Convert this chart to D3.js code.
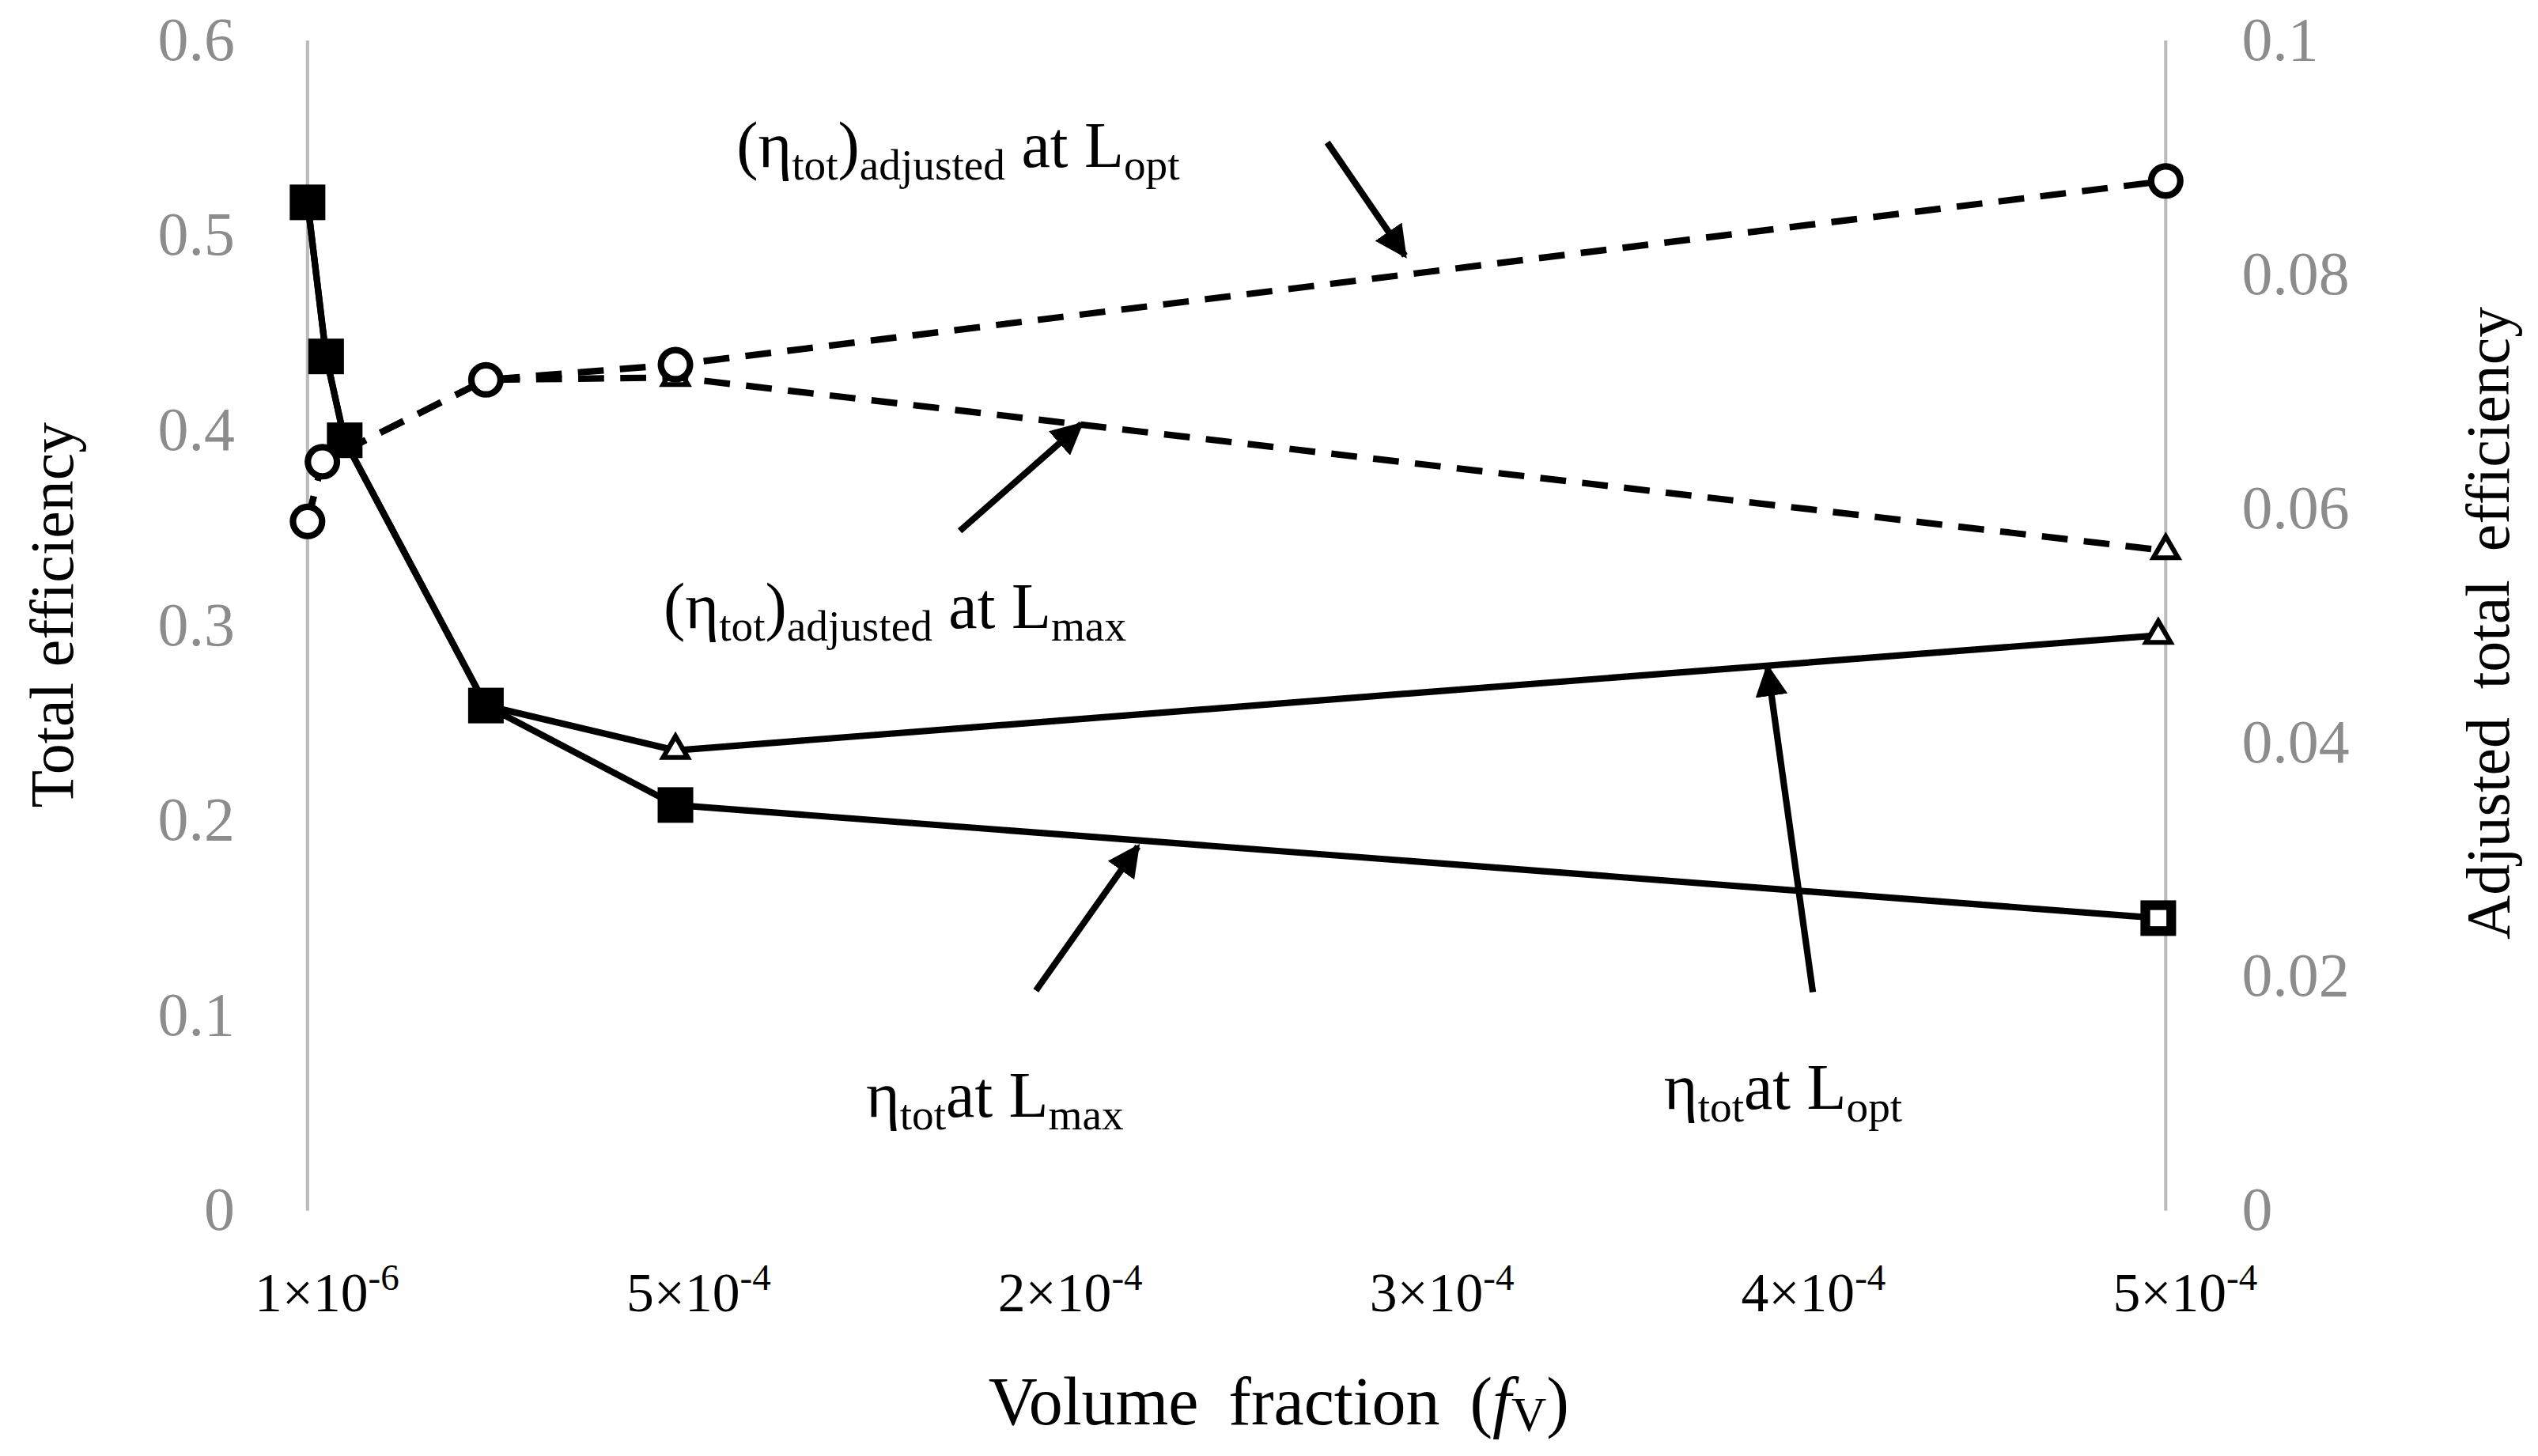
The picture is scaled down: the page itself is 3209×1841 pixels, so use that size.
<!DOCTYPE html>
<html><head><meta charset="utf-8">
<script src="https://cdn.jsdelivr.net/npm/d3@7"></script>
<style>body{margin:0;background:#fff}text{font-family:"Liberation Serif","DejaVu Serif",serif}</style>
</head><body><svg id="c" width="3209" height="1841"></svg>
<script>
// data, x in units of 1e-4
var xTicks = [0, 1, 2, 3, 4, 5];
var xTickLabels = [["1×10","-6"], ["5×10","-4"], ["2×10","-4"], ["3×10","-4"], ["4×10","-4"], ["5×10","-4"]];
var leftTicks = [0, 0.1, 0.2, 0.3, 0.4, 0.5, 0.6];
var rightTicks = [0, 0.02, 0.04, 0.06, 0.08, 0.1];
var sqX = [0, 0.05, 0.10, 0.48, 0.99, 4.98];
var sqY = [0.517, 0.438, 0.395, 0.259, 0.208, 0.150];
var triX = [0, 0.05, 0.10, 0.48, 0.99, 4.98];
var triY = [0.517, 0.438, 0.395, 0.259, 0.236, 0.295];
var circX = [0, 0.04, 0.48, 0.99, 5.0];
var circY = [0.0589, 0.064, 0.071, 0.0723, 0.088];
var dtriX = [0, 0.04, 0.48, 0.99, 5.0];
var dtriY = [0.0589, 0.064, 0.071, 0.0712, 0.0564];

var s = 3209 / 1568;
var svg = d3.select("#c");
var g = svg.append("g").attr("transform", "scale(" + s + ")");
var x = d3.scaleLinear().domain([0, 5]).range([190, 1338]);
var yL = d3.scaleLinear().domain([0, 0.6]).range([748, 25]);
var yR = d3.scaleLinear().domain([0, 0.1]).range([748, 25]);
var grey = "#8c8c8c";

g.append("line").attr("x1", 190).attr("x2", 190).attr("y1", 25).attr("y2", 748).attr("stroke", "#bbb").attr("stroke-width", 2);
g.append("line").attr("x1", 1338).attr("x2", 1338).attr("y1", 25).attr("y2", 748).attr("stroke", "#bbb").attr("stroke-width", 2);

g.selectAll(".lt").data(leftTicks).enter().append("text")
  .attr("x", 145).attr("y", function(d){ return yL(d) + 12; }).attr("text-anchor", "end")
  .attr("font-size", 38).attr("fill", grey).text(function(d){ return d; });
g.selectAll(".rt").data(rightTicks).enter().append("text")
  .attr("x", 1385).attr("y", function(d){ return yR(d) + 12; })
  .attr("font-size", 38).attr("fill", grey).text(function(d){ return d; });
var xt = g.selectAll(".xt").data(xTicks).enter().append("text")
  .attr("x", function(d){ return x(d) + 12; }).attr("y", 810).attr("text-anchor", "middle")
  .attr("font-size", 34).attr("fill", "#000");
xt.append("tspan").text(function(d, i){ return xTickLabels[i][0]; });
xt.append("tspan").attr("dy", -13).attr("font-size", 23).text(function(d, i){ return xTickLabels[i][1]; });

// axis titles
g.append("text").attr("transform", "translate(45,380) rotate(-90)").attr("text-anchor", "middle")
  .attr("font-size", 38).text("Total efficiency");
g.append("text").attr("transform", "translate(1550,385) rotate(-90)").attr("text-anchor", "middle")
  .attr("font-size", 38).attr("word-spacing", 8).text("Adjusted total efficiency");
var xl = g.append("text").attr("x", 790).attr("y", 880).attr("text-anchor", "middle").attr("font-size", 42).attr("word-spacing", 8);
xl.append("tspan").text("Volume fraction (");
xl.append("tspan").attr("font-style", "italic").text("f");
xl.append("tspan").attr("font-size", 30).attr("dy", 4).text("V");
xl.append("tspan").attr("dy", -4).text(")");

function series(xs, ys, ysc, dash) {
  var pts = xs.map(function(v, i){ return [x(v), ysc(ys[i])]; });
  g.append("path").attr("d", d3.line()(pts)).attr("fill", "none").attr("stroke", "#000")
    .attr("stroke-width", 4).attr("stroke-dasharray", dash ? "16,10" : null);
  return pts;
}
var pDt = series(dtriX, dtriY, yR, true);
var pC = series(circX, circY, yR, true);
var pT = series(triX, triY, yL, false);
var pS = series(sqX, sqY, yL, false);

g.selectAll(".sq").data(pS).enter().append("rect")
  .attr("x", function(d){ return d[0] - 11; }).attr("y", function(d){ return d[1] - 11; })
  .attr("width", 22).attr("height", 22).attr("fill", "#000");
g.selectAll(".sqi").data(pS.slice(-1)).enter().append("rect")
  .attr("x", function(d){ return d[0] - 5; }).attr("y", function(d){ return d[1] - 5; })
  .attr("width", 10).attr("height", 10).attr("fill", "#fff");
var tri = d3.symbol().type(d3.symbolTriangle).size(100);
g.selectAll(".tr").data(pT.slice(4).concat(pDt.slice(3))).enter().append("path")
  .attr("d", tri).attr("transform", function(d){ return "translate(" + d[0] + "," + d[1] + ")"; })
  .attr("fill", "#fff").attr("stroke", "#000").attr("stroke-width", 3);
g.selectAll(".ci").data(pC).enter().append("circle")
  .attr("cx", function(d){ return d[0]; }).attr("cy", function(d){ return d[1]; }).attr("r", 9)
  .attr("fill", "#fff").attr("stroke", "#000").attr("stroke-width", 4);

// arrows
svg.append("defs").append("marker").attr("id", "ah").attr("viewBox", "0 0 10 10").attr("refX", 9).attr("refY", 5)
  .attr("markerWidth", 5).attr("markerHeight", 5).attr("orient", "auto")
  .append("path").attr("d", "M0,0L10,5L0,10z").attr("fill", "#000");
var arrows = [[820, 88, 868, 158], [593, 328, 668, 262], [640, 612, 703, 523], [1120, 613, 1092, 412]];
arrows.forEach(function(a){
  g.append("line").attr("x1", a[0]).attr("y1", a[1]).attr("x2", a[2]).attr("y2", a[3])
    .attr("stroke", "#000").attr("stroke-width", 4).attr("marker-end", "url(#ah)");
});

function label(xp, yp, adj, sub) {
  var t = g.append("text").attr("x", xp).attr("y", yp).attr("font-size", 40);
  if (adj) t.append("tspan").text("(");
  t.append("tspan").text("η");
  t.append("tspan").attr("font-size", 27).attr("dy", 8).text("tot");
  if (adj) {
    t.append("tspan").attr("dy", -8).text(")");
    t.append("tspan").attr("font-size", 27).attr("dy", 8).text("adjusted");
    t.append("tspan").attr("dy", -8).text(" at L");
  } else {
    t.append("tspan").attr("dy", -8).text("at L");
  }
  t.append("tspan").attr("font-size", 27).attr("dy", 8).text(sub);
}
label(455, 103, true, "opt");
label(410, 388, true, "max");
label(535, 690, false, "max");
label(1028, 685, false, "opt");
</script></body></html>
